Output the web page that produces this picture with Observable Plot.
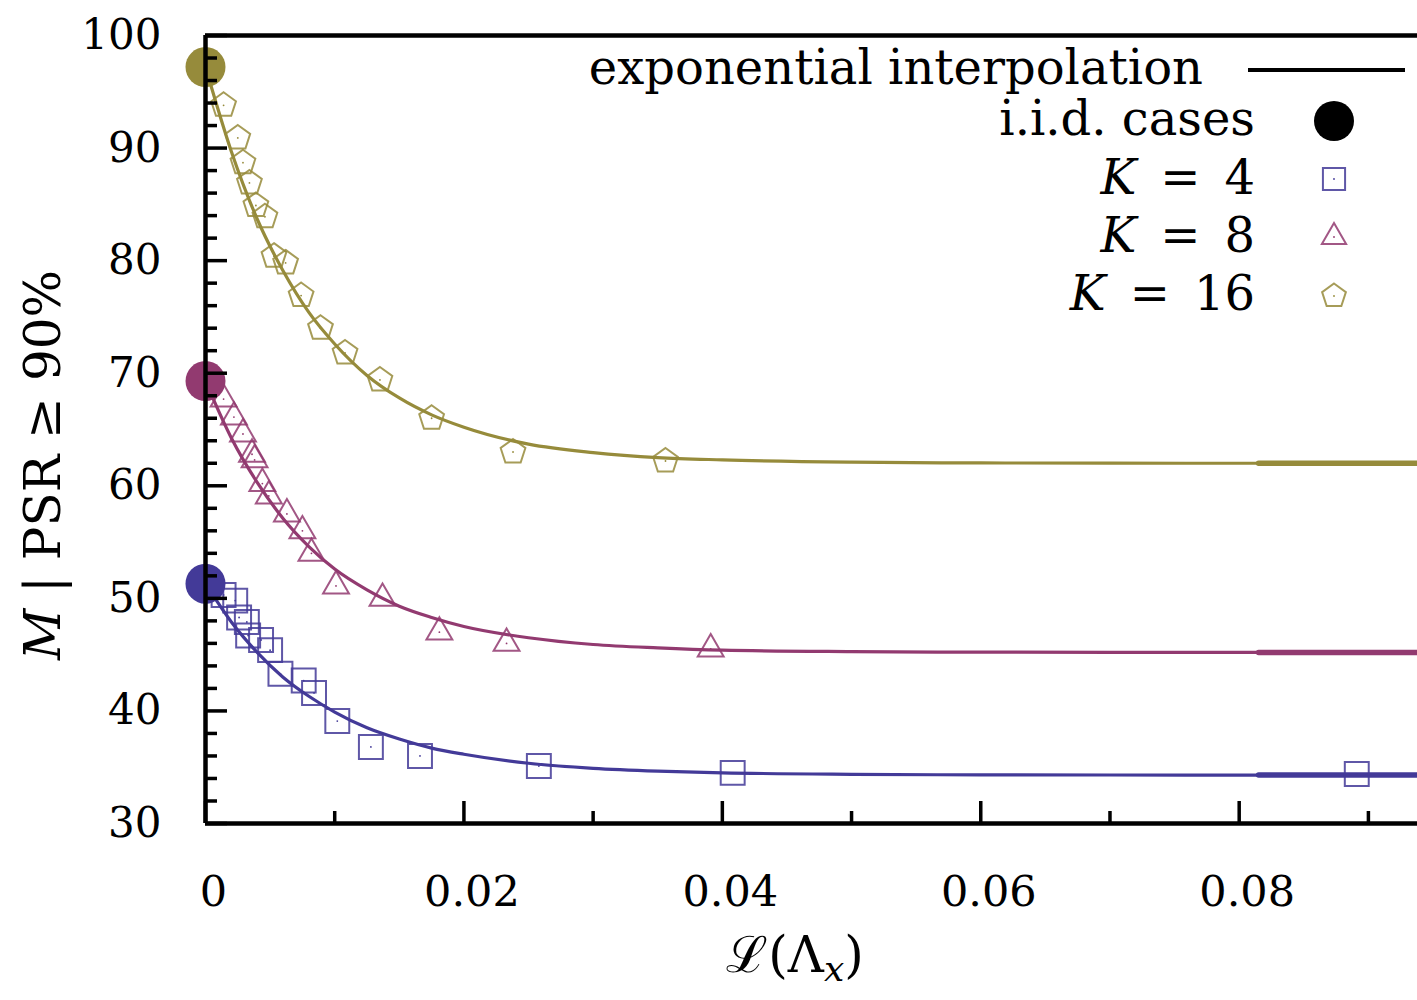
<!DOCTYPE html>
<html>
<head>
<meta charset="utf-8">
<script src="https://cdn.jsdelivr.net/npm/d3@7"></script>
<script src="https://cdn.jsdelivr.net/npm/@observablehq/plot@0.6"></script>
<style>
  html, body { margin: 0; padding: 0; background: #fff; }
  #wrap { position: relative; width: 1417px; height: 1000px; overflow: hidden; color: #000; }
  #overlay { position: absolute; left: 0; top: 0; pointer-events: none; }
</style>
</head>
<body>
<div id="wrap"></div>
<script>
// ---------------- data ----------------
const seriesNames = ["K = 4", "K = 8", "K = 16"];
const colors = { k4: "#433a98", k8: "#923a70", k16: "#968b3b" };

// i.i.d. cases (all at L = 0)
const iidX = [0, 0, 0];
const iidY = [51.3, 69.3, 97.2];

// K = 4 (squares)
const k4X = [0.0014, 0.0023, 0.0026, 0.0032, 0.0033, 0.0043, 0.0050, 0.0058, 0.0076, 0.0084, 0.0102, 0.0128, 0.0166, 0.0258, 0.0408, 0.0891];
const k4Y = [50.3, 49.8, 48.3, 47.9, 46.7, 46.3, 45.4, 43.3, 42.7, 41.6, 39.1, 36.8, 36.0, 35.1, 34.5, 34.4];

// K = 8 (triangles)
const k8X = [0.0014, 0.0022, 0.0029, 0.0036, 0.0038, 0.0044, 0.0049, 0.0063, 0.0075, 0.0082, 0.0101, 0.0137, 0.0181, 0.0233, 0.0391];
const k8Y = [67.7, 66.1, 64.6, 62.8, 62.3, 60.2, 59.1, 57.5, 56.0, 54.0, 51.1, 50.0, 47.0, 46.0, 45.5];

// K = 16 (pentagons)
const k16X = [0.0014, 0.0025, 0.0029, 0.0034, 0.0039, 0.0046, 0.0053, 0.0062, 0.0074, 0.0089, 0.0108, 0.0135, 0.0175, 0.0238, 0.0356];
const k16Y = [93.8, 90.9, 88.7, 86.9, 84.9, 83.9, 80.4, 79.8, 76.9, 74.0, 71.8, 69.4, 66.0, 63.0, 62.2];

// exponential interpolation curves
const curveX  = [0, 0.002, 0.004, 0.006, 0.008, 0.010, 0.0125, 0.015, 0.0175, 0.02, 0.025, 0.03, 0.035, 0.04, 0.05, 0.06, 0.07, 0.0815, 0.0938];
const curve16 = [97.2, 89.7, 83.7, 79.1, 75.4, 72.6, 69.8, 67.8, 66.3, 65.2, 63.7, 62.95, 62.5, 62.3, 62.1, 62.03, 62.01, 62.0, 62.0];
const curve8  = [69.3, 64.25, 60.3, 57.1, 54.6, 52.6, 50.75, 49.3, 48.3, 47.5, 46.5, 45.9, 45.6, 45.4, 45.27, 45.22, 45.21, 45.2, 45.2];
const curve4  = [51.3, 47.9, 45.2, 43.0, 41.3, 39.9, 38.5, 37.5, 36.7, 36.15, 35.35, 34.9, 34.65, 34.5, 34.37, 34.32, 34.31, 34.3, 34.3];
const thickFrom = 0.0815;

// axes
const xDomain = [0, 0.0938];
const yDomain = [30, 100];
const xMajor = [0, 0.02, 0.04, 0.06, 0.08];
const xMinor = [0.01, 0.03, 0.05, 0.07, 0.09];
const xTickLabels = ["0", "0.02", "0.04", "0.06", "0.08"];
const yMajor = [30, 40, 50, 60, 70, 80, 90, 100];
const yMinor = [32, 34, 36, 38, 42, 44, 46, 48, 52, 54, 56, 58, 62, 64, 66, 68, 72, 74, 76, 78, 82, 84, 86, 88, 92, 94, 96, 98];

// ---------------- build ----------------
const pts = (xs, ys) => xs.map((x, i) => ({ x, y: ys[i] }));
const k4 = pts(k4X, k4Y), k8 = pts(k8X, k8Y), k16 = pts(k16X, k16Y);
const iid = pts(iidX, iidY).map((d, i) => ({ ...d, c: [colors.k4, colors.k8, colors.k16][i] }));
const c4 = pts(curveX, curve4), c8 = pts(curveX, curve8), c16 = pts(curveX, curve16);

const pentagon = {
  draw(ctx, size) {
    const R = Math.sqrt(size / Math.PI);
    for (let i = 0; i < 5; i++) {
      const a = -Math.PI / 2 + i * 2 * Math.PI / 5;
      const px = R * Math.cos(a), py = R * Math.sin(a);
      if (i === 0) ctx.moveTo(px, py); else ctx.lineTo(px, py);
    }
    ctx.closePath();
  }
};

const W = 1417, H = 1000, mL = 205, mT = 35, mR = 0, mB = 177;
const fw = W - mL - mR, fh = H - mT - mB;
const font = "DejaVu Serif";

function curveMarks(data, color) {
  return [
    Plot.line(data, { x: "x", y: "y", stroke: color, strokeWidth: 3.2, curve: "monotone-x" }),
    Plot.line(data.filter(d => d.x >= thickFrom), { x: "x", y: "y", stroke: color, strokeWidth: 5.5, curve: "monotone-x" })
  ];
}
function markerMarks(data, color, symbol, r) {
  return [
    Plot.dot(data, { x: "x", y: "y", symbol, r, stroke: color, strokeWidth: 2, strokeOpacity: 0.85, fill: "none" }),
    Plot.dot(data, { x: "x", y: "y", r: 0.9, fill: color, stroke: "none" })
  ];
}

const chart = Plot.plot({
  width: W, height: H,
  marginLeft: mL, marginTop: mT, marginRight: mR, marginBottom: mB,
  x: { domain: xDomain },
  y: { domain: yDomain },
  style: { fontFamily: font, background: "white", color: "black", overflow: "visible" },
  marks: [
    ...curveMarks(c16, colors.k16),
    ...curveMarks(c8, colors.k8),
    ...curveMarks(c4, colors.k4),
    ...markerMarks(k16, colors.k16, pentagon, 13),
    ...markerMarks(k8, colors.k8, "triangle", 9.6),
    ...markerMarks(k4, colors.k4, "square", 13.5),
    Plot.dot(iid, { x: "x", y: "y", r: 20, fill: "c", stroke: "none" }),
    // inward ticks
    Plot.tickX(xMajor, { x: d => d, insetTop: fh - 22, stroke: "black", strokeWidth: 3.5 }),
    Plot.tickX(xMinor, { x: d => d, insetTop: fh - 12, stroke: "black", strokeWidth: 3.5 }),
    Plot.tickY(yMajor, { y: d => d, insetRight: fw - 22, stroke: "black", strokeWidth: 3.5 }),
    Plot.tickY(yMinor, { y: d => d, insetRight: fw - 12, stroke: "black", strokeWidth: 3.5 }),
    // frame (top, left, bottom)
    Plot.ruleY([yDomain[1]], { stroke: "black", strokeWidth: 4.5 }),
    Plot.ruleY([yDomain[0]], { stroke: "black", strokeWidth: 4.5 }),
    Plot.ruleX([xDomain[0]], { stroke: "black", strokeWidth: 4.5 }),
    // tick labels
    Plot.axisY({ ticks: yMajor, tickSize: 0, tickPadding: 44, fontSize: 42, fontFamily: font, label: null }),
    Plot.axisX({ ticks: xMajor, tickSize: 0, tickPadding: 52, dx: 8, fontSize: 43, fontFamily: font, label: null,
                 tickFormat: d => xTickLabels[xMajor.indexOf(d)] })
  ]
});

const wrap = document.getElementById("wrap");
wrap.appendChild(chart);

// ---------------- legend & axis titles (overlay) ----------------
const ns = "http://www.w3.org/2000/svg";
const ov = document.createElementNS(ns, "svg");
ov.setAttribute("id", "overlay");
ov.setAttribute("width", W);
ov.setAttribute("height", H);
ov.style.fontFamily = font;
wrap.appendChild(ov);

function el(tag, attrs, parent = ov) {
  const e = document.createElementNS(ns, tag);
  for (const k in attrs) e.setAttribute(k, attrs[k]);
  parent.appendChild(e);
  return e;
}
function rich(parent, parts) {
  for (const [txt, style] of parts) {
    const t = el("tspan", style || {}, parent);
    t.textContent = txt;
  }
}

const legendTexts = ["exponential interpolation", "i.i.d. cases", ...seriesNames];
const legendFont = 48;

// exponential interpolation
let t = el("text", { x: 1203, y: 84, "text-anchor": "end", "font-size": legendFont });
t.textContent = legendTexts[0];
el("line", { x1: 1248, x2: 1405, y1: 70, y2: 70, stroke: "black", "stroke-width": 4 });

// i.i.d.
t = el("text", { x: 1255, y: 135, "text-anchor": "end", "font-size": legendFont });
t.textContent = legendTexts[1];
el("circle", { cx: 1334, cy: 121, r: 20, fill: "black" });

// K rows
const rows = [
  { y: 194, cy: 179, color: colors.k4, sym: d3.symbolSquare, r: 12.5 },
  { y: 252, cy: 237, color: colors.k8, sym: d3.symbolTriangle, r: 9.0 },
  { y: 310, cy: 296, color: colors.k16, sym: pentagon, r: 12.5 }
];
rows.forEach((row, i) => {
  const tx = el("text", { x: 1255, y: row.y, "text-anchor": "end", "font-size": legendFont });
  const parts = seriesNames[i].split(" = ");
  rich(tx, [[parts[0], { "font-style": "italic" }], ["\u2002=\u2002" + parts[1], null]]);
  el("path", {
    d: d3.symbol(row.sym, row.r * row.r * Math.PI)(),
    transform: `translate(1334,${row.cy})`,
    fill: "none", stroke: row.color, "stroke-width": 2, "stroke-opacity": 0.85
  });
  el("circle", { cx: 1334, cy: row.cy, r: 0.9, fill: row.color });
});

// y-axis title
const yl = el("text", { transform: "translate(60,465) rotate(-90)", "text-anchor": "middle", "font-size": 50 });
rich(yl, [["M", { "font-style": "italic" }], [" | PSR \u2265 90%", null]]);

// x-axis title
const xl = el("text", { x: 795, y: 972, "text-anchor": "middle", "font-size": 50 });
rich(xl, [["\u2112(\u039B", null], ["x", { "font-style": "italic", "font-size": 36, dy: 9 }], [")", { dy: -9 }]]);
</script>
</body>
</html>
